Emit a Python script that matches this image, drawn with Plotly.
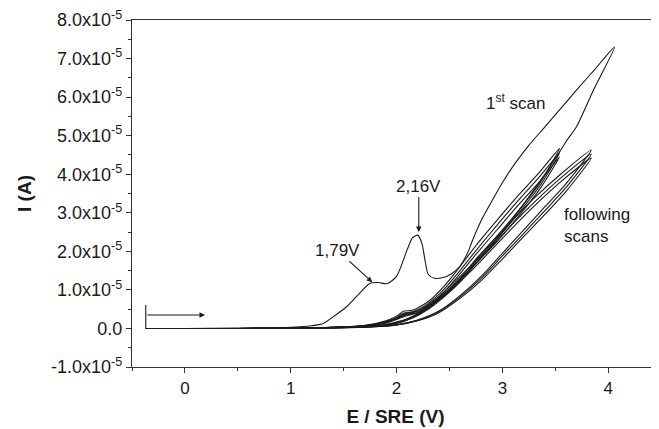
import plotly.graph_objects as go

# potential (V vs SRE) and current (in units of 1e-5 A)
E_first = [-0.37, 0.0, 0.5, 1.0, 1.2, 1.3, 1.4, 1.53, 1.65, 1.75, 1.83, 1.91, 2.0, 2.1, 2.15, 2.2,
           2.24, 2.27, 2.3, 2.36, 2.44, 2.52, 2.6, 2.67, 2.72, 2.8, 2.9, 3.0, 3.12, 3.25, 3.4, 3.55,
           3.7, 3.88, 4.06, 3.86, 3.7, 3.61, 3.5, 3.3, 3.1, 2.9, 2.7, 2.5, 2.3, 2.1, 1.9, 1.6, 1.0,
           0.3, -0.37]
I_first = [0, 0, 0.01, 0.03, 0.07, 0.12, 0.3, 0.57, 0.91, 1.17, 1.19, 1.16, 1.35, 2.04, 2.35, 2.42,
           2.2, 1.75, 1.4, 1.3, 1.32, 1.42, 1.62, 1.95, 2.3, 2.8, 3.3, 3.78, 4.28, 4.75, 5.22, 5.7,
           6.18, 6.74, 7.30, 6.18, 5.23, 4.88, 4.4, 3.6, 2.85, 2.15, 1.55, 1.0, 0.55, 0.25, 0.11,
           0.03, 0.01, 0, 0]

# following scans reversed at ~3.54 V
E_a = [-0.37, 0.5, 1.0, 1.4, 1.7, 1.9, 2.0, 2.07, 2.15, 2.3, 2.45, 2.57, 2.75, 2.95, 3.15, 3.35,
       3.54, 3.35, 3.15, 2.95, 2.75, 2.6, 2.45, 2.3, 2.15, 2.0, 1.8, 1.4, 0.5, -0.37]
I_a1 = [0, 0, 0.01, 0.03, 0.08, 0.2, 0.32, 0.45, 0.47, 0.7, 1.1, 1.5, 2.15, 2.81, 3.45, 4.05,
        4.67, 3.75, 3.05, 2.4, 1.8, 1.3, 0.9, 0.55, 0.3, 0.15, 0.07, 0.02, 0, 0]
I_a2 = [0, 0, 0.01, 0.03, 0.07, 0.18, 0.28, 0.4, 0.43, 0.65, 1.02, 1.4, 2.02, 2.68, 3.32, 3.93,
        4.55, 3.68, 2.98, 2.33, 1.74, 1.25, 0.86, 0.52, 0.28, 0.14, 0.06, 0.02, 0, 0]
I_a3 = [0, 0, 0.01, 0.03, 0.07, 0.16, 0.26, 0.36, 0.4, 0.6, 0.95, 1.32, 1.92, 2.56, 3.2, 3.8,
        4.45, 3.6, 2.9, 2.26, 1.68, 1.2, 0.82, 0.5, 0.27, 0.13, 0.06, 0.02, 0, 0]

# following scans reversed at ~3.84 V
E_b = [-0.37, 0.5, 1.0, 1.4, 1.7, 1.9, 2.0, 2.08, 2.2, 2.35, 2.5, 2.7, 2.9, 3.1, 3.3, 3.55,
       3.84, 3.6, 3.4, 3.2, 3.0, 2.8, 2.6, 2.4, 2.2, 2.0, 1.7, 1.2, 0.5, -0.37]
I_b1 = [0, 0, 0.01, 0.03, 0.07, 0.17, 0.28, 0.38, 0.45, 0.72, 1.08, 1.62, 2.22, 2.82, 3.38, 4.0,
        4.63, 3.75, 3.15, 2.55, 1.95, 1.35, 0.85, 0.45, 0.22, 0.1, 0.04, 0.01, 0, 0]
I_b2 = [0, 0, 0.01, 0.03, 0.06, 0.15, 0.25, 0.34, 0.42, 0.68, 1.02, 1.55, 2.13, 2.72, 3.27, 3.9,
        4.52, 3.65, 3.05, 2.46, 1.88, 1.3, 0.82, 0.43, 0.21, 0.09, 0.03, 0.01, 0, 0]
I_b3 = [0, 0, 0.01, 0.02, 0.06, 0.14, 0.23, 0.32, 0.4, 0.64, 0.97, 1.48, 2.05, 2.62, 3.17, 3.8,
        4.42, 3.55, 2.95, 2.38, 1.8, 1.24, 0.78, 0.41, 0.2, 0.09, 0.03, 0.01, 0, 0]

y_ticks = [-1, 0, 1, 2, 3, 4, 5, 6, 7, 8]
y_labels = ["-1.0x10<sup>-5</sup>", "0.0", "1.0x10<sup>-5</sup>", "2.0x10<sup>-5</sup>",
            "3.0x10<sup>-5</sup>", "4.0x10<sup>-5</sup>", "5.0x10<sup>-5</sup>",
            "6.0x10<sup>-5</sup>", "7.0x10<sup>-5</sup>", "8.0x10<sup>-5</sup>"]

FONT = "Liberation Sans, Arial, sans-serif"
ink = "#1a1a1a"

fig = go.Figure()
scans = [(E_first, I_first), (E_a, I_a1), (E_a, I_a2), (E_a, I_a3),
         (E_b, I_b1), (E_b, I_b2), (E_b, I_b3)]
for e, i in scans:
    fig.add_trace(go.Scatter(x=e, y=i, mode="lines",
                             line=dict(color=ink, width=1.1, shape="spline", smoothing=0.7),
                             showlegend=False, hoverinfo="skip"))

# scan start marker
fig.add_shape(type="line", x0=-0.37, x1=-0.37, y0=0, y1=0.61,
              line=dict(color=ink, width=1.1))
fig.add_annotation(x=0.19, y=0.35, ax=-0.37, ay=0.35, axref="x", ayref="y",
                   text="", showarrow=True, arrowhead=2, arrowsize=1, arrowwidth=1.1,
                   arrowcolor=ink)

fig.add_annotation(x=1.77, y=1.2, ax=-35, ay=-32, text="1,79V", showarrow=True,
                   arrowhead=2, arrowsize=1, arrowwidth=1.1, arrowcolor=ink,
                   font=dict(size=17, color=ink))
fig.add_annotation(x=2.21, y=2.5, ax=0, ay=-46, text="2,16V", showarrow=True,
                   arrowhead=2, arrowsize=1, arrowwidth=1.1, arrowcolor=ink,
                   font=dict(size=17, color=ink))
fig.add_annotation(x=3.12, y=5.87, text="1<sup>st</sup> scan", showarrow=False,
                   font=dict(size=17, color=ink))
fig.add_annotation(x=3.56, y=2.68, text="following<br>scans", showarrow=False,
                   xanchor="left", align="left", font=dict(size=17, color=ink))

# the page body adds an 8px offset, margins are set to compensate
fig.update_layout(
    width=659, height=429,
    margin=dict(l=124, r=8, t=12, b=70, autoexpand=False),
    paper_bgcolor="white", plot_bgcolor="white",
    font=dict(family=FONT, color=ink),
)
fig.update_xaxes(
    range=[-0.5, 4.48], showgrid=False, zeroline=False, automargin=False,
    showline=True, linecolor="#333", linewidth=1.3, mirror=True,
    ticks="outside", ticklen=5, tickcolor="#333", tickwidth=1.2,
    tickvals=[0, 1, 2, 3, 4], tickfont=dict(size=17), ticklabeloverflow="allow",
    minor=dict(ticks="outside", ticklen=3, dtick=0.5, tick0=0, tickcolor="#333", showgrid=False),
    title=dict(text="<b>E / SRE (V)</b>", font=dict(size=19), standoff=13),
)
fig.update_yaxes(
    range=[-1, 8], showgrid=False, zeroline=False, automargin=False,
    showline=True, linecolor="#333", linewidth=1.3,
    ticks="outside", ticklen=5, tickcolor="#333", tickwidth=1.2,
    tickvals=y_ticks, ticktext=y_labels, tickfont=dict(size=18), ticklabeloverflow="allow",
    minor=dict(ticks="outside", ticklen=3, dtick=0.5, tick0=0, tickcolor="#333", showgrid=False),
    title=dict(text="<b>I (A)</b>", font=dict(size=19), standoff=14),
)

fig.write_html("out.html")
